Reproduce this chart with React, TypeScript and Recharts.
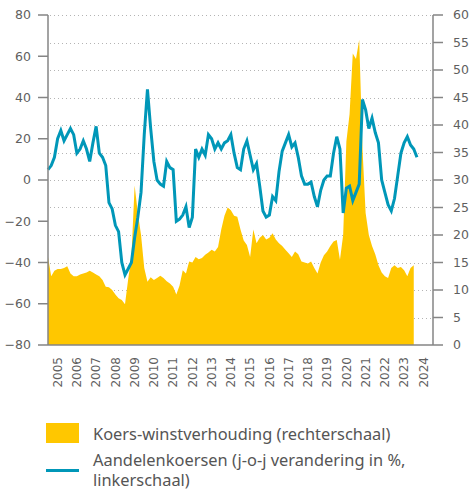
import * as React from "react";
import {
  ComposedChart, Area, Line, XAxis, YAxis,
} from "recharts";

// bi-monthly observations, starting Jan 2005
const START_YEAR = 2005;
const STEP = 1 / 6;

// Aandelenkoersen, j-o-j verandering in % (linkerschaal)
const stockYoY = [
  5, 7, 11, 20, 24, 19,
  22, 25, 22, 13, 15, 19,
  15, 9, 18, 26, 13, 11,
  7, -11, -14, -22, -25, -40,
  -46, -43, -40, -28, -18, -6,
  22, 44, 25, 9, 0, -2,
  -3, 9, 6, 5, -20, -19,
  -17, -13, -23, -18, 15, 11,
  15, 12, 22, 20, 15, 18,
  15, 18, 19, 22, 13, 6,
  5, 15, 19, 12, 5, 8,
  -3, -15, -18, -17, -8, -10,
  4, 14, 18, 22, 16, 18,
  11, 2, -2, -2, -1, -8,
  -13, -5, 0, 2, 2, 13,
  21, 15, -16, -4, -3, -10,
  -6, -2, 39, 34, 25, 30,
  23, 18, 0, -6, -12, -15,
  -9, 2, 13, 18, 21, 17,
  15, 11,
];

// Koers-winstverhouding (rechterschaal)
const peRatio = [
  16, 12.5, 13.5, 13.8, 13.8, 14,
  14.3, 13, 12.5, 12.5, 12.8, 13,
  13.2, 13.5, 13.2, 12.8, 12.5, 11.8,
  10.6, 10.5, 10, 9.2, 8.5, 8.2,
  7.4, 12, 16, 29, 24, 20,
  14, 11.5, 12.3, 11.8, 12.2, 12.6,
  12.2, 11.6, 11.2, 10.6, 9.2, 10.8,
  13.6, 13, 15.2, 15, 16, 15.6,
  15.8, 16.4, 16.8, 17.3, 17, 17.8,
  21, 23.5, 25, 24.5, 23.5, 23.3,
  21, 19, 18.2, 16, 21, 18.5,
  19.5, 20, 19.2, 19.5, 20.3, 19.2,
  18.5, 18, 17.3, 16.7, 16, 17,
  16.5, 15.2, 15, 14.8, 15.2, 14,
  13, 15, 16.3, 17, 18, 18.8,
  19.1, 15.5, 20, 37, 42, 53,
  52, 55.5, 36, 24, 20, 18,
  16.5, 14.5, 13.2, 12.5, 12.2, 14,
  14.5, 14, 14.2, 13.6, 12.5, 14,
  14.5,
];

const years = [2005, 2006, 2007, 2008, 2009, 2010, 2011, 2012, 2013, 2014,
  2015, 2016, 2017, 2018, 2019, 2020, 2021, 2022, 2023, 2024];
const leftTicks = [-80, -60, -40, -20, 0, 20, 40, 60, 80];
const rightTicks = [0, 5, 10, 15, 20, 25, 30, 35, 40, 45, 50, 55, 60];

const YELLOW = "#FFC700";
const TEAL = "#0097B8";
const AXIS = "#858585";
const LABEL = "#5f5f5f";
const TICK_FONT = "'DejaVu Sans', Verdana, sans-serif";
const LEGEND_FONT = "'Noto Sans', sans-serif";

// chart box
const W = 469;
const H = 400;
const M = { top: 15, right: 36, bottom: 55, left: 48 };
const plotH = H - M.top - M.bottom;

const data = stockYoY.map((v, i) => ({
  t: START_YEAR + i * STEP,
  koers: v,
  pe: i < peRatio.length ? peRatio[i] : null,
}));

const yearMids = years.map((y) => y + 0.5);
const yearMarks = years.slice(1);

function YearTick(props: any) {
  const { x, y, payload } = props;
  return (
    <text
      transform={`translate(${x},${y}) rotate(-90)`}
      textAnchor="end"
      dy="0.36em"
      fontSize={12}
      fontFamily={TICK_FONT}
      fill={LABEL}
    >
      {Math.floor(payload.value)}
    </text>
  );
}

const fmtLeft = (v: number) => (v < 0 ? `\u2212${Math.abs(v)}` : `${v}`);

// dotted background grid on the right-scale ticks, sits under the chart svg
function DottedGrid() {
  const max = rightTicks[rightTicks.length - 1];
  return (
    <svg width={W} height={H} style={{ position: "absolute", left: 0, top: 0 }}>
      {rightTicks.slice(1).map((v) => {
        const y = Math.round(M.top + plotH * (1 - v / max)) + 0.5;
        return (
          <line
            key={v}
            x1={M.left + 2}
            x2={W - M.right - 2}
            y1={y}
            y2={y}
            stroke="#b4b4b4"
            strokeWidth={1}
            strokeDasharray="1 3"
          />
        );
      })}
    </svg>
  );
}

const legendText: React.CSSProperties = {
  position: "absolute", left: 93, height: 20, lineHeight: "20px",
  fontSize: 16.4, fontFamily: LEGEND_FONT, color: "#555", whiteSpace: "nowrap",
};

export default function App() {
  return (
    <div style={{ position: "absolute", left: 0, top: 0, width: 469, height: 490, background: "#fff" }}>
      <DottedGrid />
      <ComposedChart
        width={W}
        height={H}
        data={data}
        margin={{ top: M.top, right: 0, bottom: 0, left: 0 }}
      >
        <XAxis
          xAxisId="marks"
          dataKey="t"
          type="number"
          domain={[2005, 2025]}
          ticks={yearMarks}
          interval={0}
          mirror
          height={0}
          tick={false}
          axisLine={false}
          tickSize={10}
          tickLine={{ stroke: AXIS, strokeWidth: 1.5 }}
        />
        <XAxis
          xAxisId="yr"
          dataKey="t"
          type="number"
          domain={[2005, 2025]}
          ticks={yearMids}
          interval={0}
          height={M.bottom}
          tickLine={false}
          tickSize={0}
          tickMargin={12}
          axisLine={{ stroke: AXIS, strokeWidth: 1.5 }}
          tick={YearTick}
        />
        <YAxis
          yAxisId="left"
          orientation="left"
          domain={[-80, 80]}
          ticks={leftTicks}
          interval={0}
          width={M.left}
          tickSize={10}
          tickMargin={7}
          tickFormatter={fmtLeft}
          axisLine={{ stroke: AXIS, strokeWidth: 1.5 }}
          tickLine={{ stroke: AXIS, strokeWidth: 1.5 }}
          tick={{ fontSize: 12.5, fontFamily: TICK_FONT, fill: LABEL }}
        />
        <YAxis
          yAxisId="right"
          orientation="right"
          domain={[0, 60]}
          ticks={rightTicks}
          interval={0}
          width={M.right}
          tickSize={10}
          tickMargin={10}
          axisLine={{ stroke: AXIS, strokeWidth: 1.5 }}
          tickLine={{ stroke: AXIS, strokeWidth: 1.5 }}
          tick={{ fontSize: 12.5, fontFamily: TICK_FONT, fill: LABEL }}
        />
        <Area
          xAxisId="yr"
          yAxisId="right"
          dataKey="pe"
          type="linear"
          fill={YELLOW}
          fillOpacity={1}
          stroke="none"
          isAnimationActive={false}
        />
        <Line
          xAxisId="yr"
          yAxisId="left"
          dataKey="koers"
          type="linear"
          stroke={TEAL}
          strokeWidth={3}
          dot={false}
          isAnimationActive={false}
        />
      </ComposedChart>

      {/* legend */}
      <div style={{ position: "absolute", left: 46, top: 423, width: 33, height: 20, background: YELLOW }} />
      <div style={{ ...legendText, top: 424 }}>Koers-winstverhouding (rechterschaal)</div>
      <div style={{ position: "absolute", left: 46, top: 469, width: 33, height: 3, background: TEAL }} />
      <div style={{ ...legendText, top: 450 }}>Aandelenkoersen (j-o-j verandering in %,</div>
      <div style={{ ...legendText, top: 470, height: 19, lineHeight: "19px" }}>linkerschaal)</div>
    </div>
  );
}
